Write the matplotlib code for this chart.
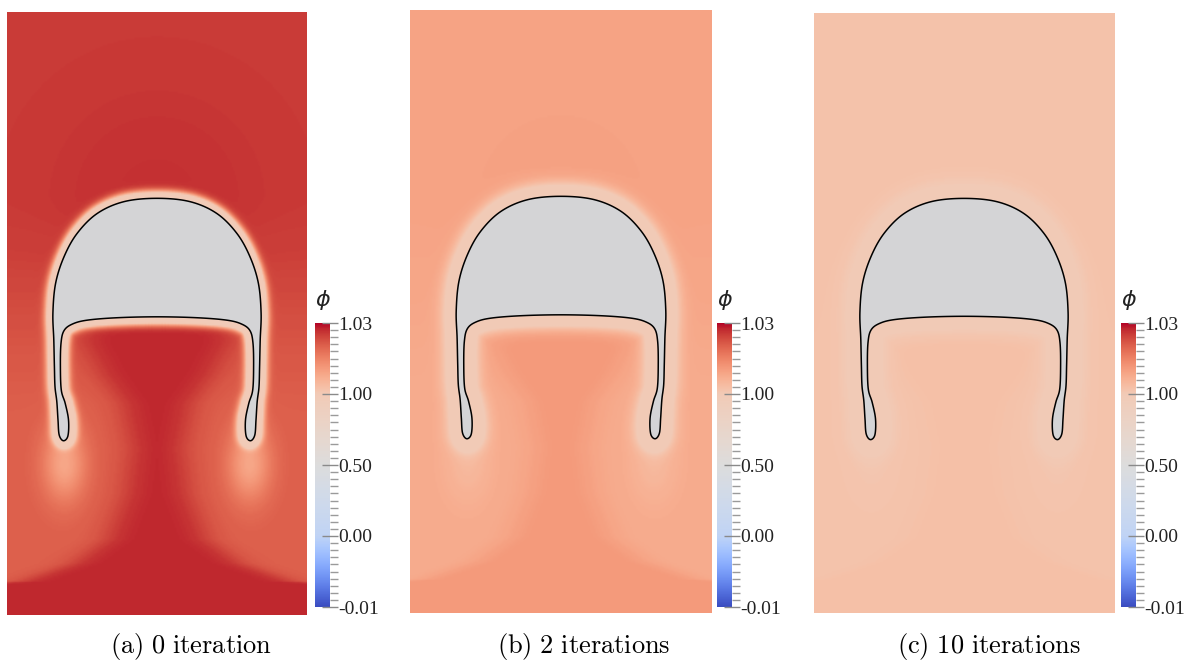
import numpy as np
import matplotlib.pyplot as plt
from matplotlib.colors import ListedColormap
from matplotlib.path import Path
from matplotlib.patches import Polygon

plt.rcParams['mathtext.fontset'] = 'cm'

# bubble outline, right half (domain units: x in [0,1], y in [0,2]), top -> inner centre
bub_x = [0.50, 0.61, 0.699, 0.766, 0.81, 0.838, 0.847, 0.844, 0.842, 0.840, 0.834, 0.830,
         0.826, 0.812, 0.797, 0.795, 0.806, 0.819, 0.822, 0.820, 0.81, 0.782, 0.732, 0.632, 0.50]
bub_y = [1.382, 1.371, 1.332, 1.266, 1.188, 1.100, 1.001, 0.912, 0.824, 0.757, 0.708, 0.647,
         0.597, 0.578, 0.594, 0.647, 0.702, 0.746, 0.824, 0.901, 0.943, 0.965, 0.978, 0.986, 0.989]

# plume half width along height
plume_y = [0.0, 0.07, 0.11, 0.17, 0.25, 0.40, 0.55, 0.70, 0.80, 0.90, 0.97, 1.0]
plume_w = [1.0, 1.0, 0.45, 0.28, 0.17, 0.11, 0.09, 0.12, 0.19, 0.24, 0.25, 0.25]

captions = ['(a) 0 iteration', '(b) 2 iterations', '(c) 10 iterations']
bg_top = [1.0255, 1.0092, 1.0023]
bg_low = [1.0205, 1.0075, 1.0020]
plume_val = [1.0275, 1.0112, 1.0030]
dome_amp = [0.0012, 0.0004, 0.0]
wake_val = [1.0065, 1.0040, 1.0010]
halo_val = [0.97, 0.99, 0.998]
halo_w = [0.024, 0.045, 0.06]

cb_phi = [-0.01, 0.0, 0.5, 1.0, 1.03]
cb_labels = ['-0.01', '0.00', '0.50', '1.00', '1.03']


def phi_to_t(v):
    return np.interp(v, cb_phi, [0, 0.25, 0.5, 0.75, 1.0])


# colour map in colour-bar space
tt = np.linspace(0, 1, 512)
cmap = ListedColormap(plt.cm.coolwarm(np.interp(tt, [0, 0.25, 0.5, 0.75, 1.0],
                                                [0, 0.40, 0.5, 0.60, 1.0])))


def closed_spline(px, py, n=12):
    P = np.column_stack([px, py])
    N = len(P)
    t = np.linspace(0, 1, n, endpoint=False)[:, None]
    out = []
    for i in range(N):
        p0, p1, p2, p3 = P[i - 1], P[i], P[(i + 1) % N], P[(i + 2) % N]
        out.append(0.5 * (2 * p1 + (-p0 + p2) * t + (2 * p0 - 5 * p1 + 4 * p2 - p3) * t ** 2
                          + (-p0 + 3 * p1 - 3 * p2 + p3) * t ** 3))
    return np.vstack(out)


rx = np.array(bub_x)
ry = np.array(bub_y)
ox = np.concatenate([rx, (1 - rx)[::-1][1:-1]])
oy = np.concatenate([ry, ry[::-1][1:-1]])
outline = closed_spline(ox, oy)

nx, ny = 200, 400
gx = np.linspace(0, 1, nx)
gy = np.linspace(0, 2, ny)
X, Y = np.meshgrid(gx, gy)
pts = np.column_stack([X.ravel(), Y.ravel()]).astype(np.float32)
ol = outline.astype(np.float32)
dist = np.empty(len(pts), dtype=np.float32)
for k in range(0, len(pts), 8000):
    p = pts[k:k + 8000]
    d = np.sqrt(((p[:, None, :] - ol[None, :, :]) ** 2).sum(-1))
    dist[k:k + 8000] = d.min(1)
dist = dist.reshape(X.shape)
inside = Path(outline).contains_points(pts).reshape(X.shape)

W = np.interp(Y, plume_y, plume_w)
P = 1 / (1 + np.exp((np.abs(X - 0.5) - W) / 0.03))
P = P * np.clip((1.0 - Y) / 0.06, 0, 1)
up = np.clip((Y - 0.6) / 0.8, 0, 1)
up = up * up * (3 - 2 * up)
dome = np.exp(-((X - 0.5) ** 2 + (Y - 1.38) ** 2) / 0.3 ** 2) * np.clip((Y - 0.95) / 0.2, 0, 1)
wake = (np.exp(-((X - 0.19) / 0.07) ** 2 - ((Y - 0.50) / 0.12) ** 2)
        + np.exp(-((X - 0.81) / 0.07) ** 2 - ((Y - 0.50) / 0.12) ** 2))
wake = np.clip(wake, 0, 1)

fig = plt.figure(figsize=(11.86, 6.62), dpi=100)
panel_rect = [(7, 12, 300, 603), (410, 10, 302, 603), (814, 13, 300, 600)]
cbar_x = [315, 717, 1121]
cap_x = [191, 584, 989]
W_px, H_px = 1186, 662

for i in range(3):
    x0, y0, w, h = panel_rect[i]
    ax = fig.add_axes([x0 / W_px, 1 - (y0 + h) / H_px, w / W_px, h / H_px])
    f = bg_low[i] + (bg_top[i] - bg_low[i]) * up
    f = f + (plume_val[i] - f) * P
    f = f + dome_amp[i] * dome
    f = f + (wake_val[i] - f) * wake * 0.85
    f = f + (halo_val[i] - f) * np.exp(-(dist / halo_w[i]) ** 2)
    f[inside] = halo_val[i]
    ax.imshow(phi_to_t(f), extent=[0, 1, 0, 2], origin='lower', cmap=cmap, vmin=0, vmax=1,
              interpolation='bilinear', aspect='auto')
    ax.add_patch(Polygon(outline, closed=True, facecolor='#d4d4d6', edgecolor='black', lw=1.1))
    ax.set_xlim(0, 1)
    ax.set_ylim(0, 2)
    ax.axis('off')

    # colour bar
    cax = fig.add_axes([cbar_x[i] / W_px, (662 - 607) / H_px, 15 / W_px, 284 / H_px])
    cax.imshow(tt[:, None], extent=[0, 1, 0, 1], origin='lower', cmap=cmap, aspect='auto')
    cax.set_xticks([])
    cax.yaxis.tick_right()
    cax.set_yticks(phi_to_t(np.array(cb_phi)))
    cax.set_yticklabels(cb_labels, family='Liberation Serif', fontsize=14, color='#222222')
    cax.set_yticks(np.arange(0, 1.001, 0.025), minor=True)
    cax.tick_params(axis='y', which='major', direction='inout', length=12, width=1,
                    color='#8a8a8a', pad=0)
    cax.tick_params(axis='y', which='minor', direction='out', length=6, width=1,
                    color='#9a9a9a')
    for s in cax.spines.values():
        s.set_visible(False)
    fig.text((cbar_x[i] + 8) / W_px, 1 - 300 / H_px, '\u03d5', fontsize=16, style='italic',
             ha='center', va='center', color='#222222')

    fig.text(cap_x[i] / W_px, 1 - 646 / H_px,
             r'$\mathrm{' + captions[i].replace(' ', r'\ ') + '}$',
             fontsize=19, ha='center', va='center')

fig.savefig('out.png', dpi=100)
plt.close(fig)
